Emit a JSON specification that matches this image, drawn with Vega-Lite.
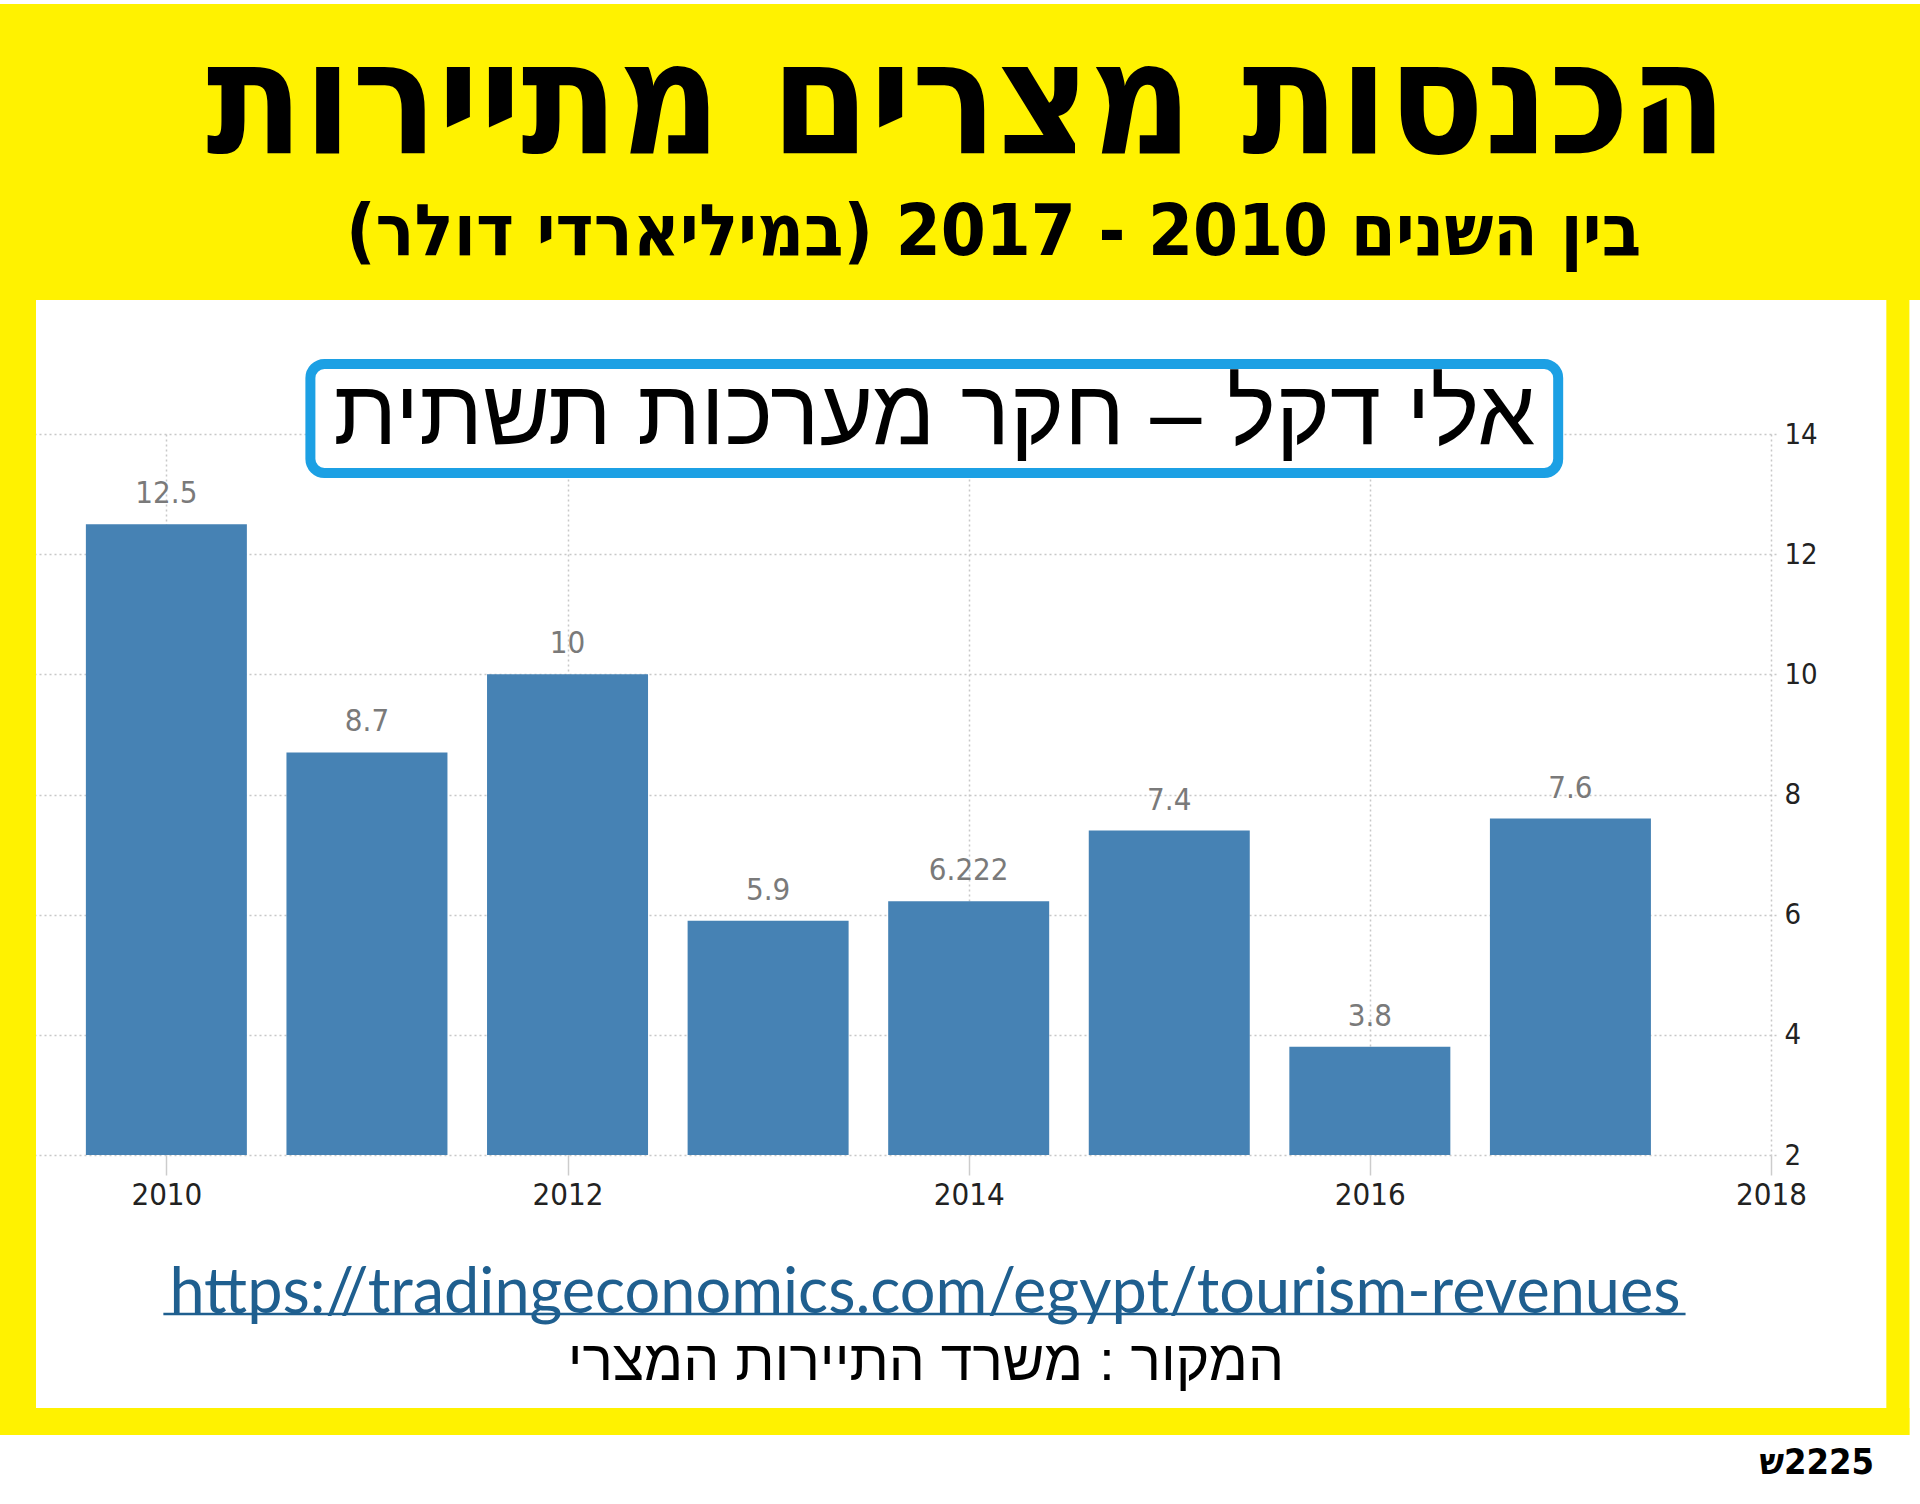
{
  "$schema": "https://vega.github.io/schema/vega-lite/v6.json",
  "width": 1745,
  "height": 721,
  "autosize": {"type": "none"},
  "padding": {"left": 31, "top": 434, "right": 144, "bottom": 349},
  "background": "white",
  "data": {
    "values": [
      {"year": 2010, "revenue": 12.5},
      {"year": 2011, "revenue": 8.7},
      {"year": 2012, "revenue": 10},
      {"year": 2013, "revenue": 5.9},
      {"year": 2014, "revenue": 6.222},
      {"year": 2015, "revenue": 7.4},
      {"year": 2016, "revenue": 3.8},
      {"year": 2017, "revenue": 7.6}
    ]
  },
  "layer": [
    {
      "data": {"values": [{}]},
      "mark": {"type": "rect", "color": "#fff200"},
      "encoding": {
        "x": {"datum": 2005}, "x2": {"datum": 2025},
        "y": {"datum": 21.157}, "y2": {"datum": 16.23}
      }
    },
    {
      "data": {"values": [{}]},
      "mark": {"type": "rect", "color": "#fff200"},
      "encoding": {
        "x": {"datum": 2005}, "x2": {"datum": 2009.35},
        "y": {"datum": 16.23}, "y2": {"datum": -2.661}
      }
    },
    {
      "data": {"values": [{}]},
      "mark": {"type": "rect", "color": "#fff200"},
      "encoding": {
        "x": {"datum": 2018.575}, "x2": {"datum": 2018.69},
        "y": {"datum": 16.23}, "y2": {"datum": -2.661}
      }
    },
    {
      "data": {"values": [{}]},
      "mark": {"type": "rect", "color": "#fff200"},
      "encoding": {
        "x": {"datum": 2005}, "x2": {"datum": 2018.69},
        "y": {"datum": -2.212}, "y2": {"datum": -2.661}
      }
    },
    {
      "mark": {"type": "bar", "width": 161, "color": "#4682b4"},
      "encoding": {
        "x": {
          "field": "year",
          "type": "quantitative",
          "scale": {"domain": [2009.35, 2018], "nice": false, "zero": false},
          "axis": {
            "title": null,
            "values": [2010, 2012, 2014, 2016, 2018],
            "format": "d",
            "domain": false,
            "grid": true,
            "gridColor": "#c8c8c8",
            "gridDash": [2, 3],
            "gridWidth": 1.5,
            "ticks": true,
            "tickColor": "#cccccc",
            "tickSize": 20,
            "tickWidth": 1.5,
            "labelFont": "DejaVu Sans Condensed",
            "labelFontSize": 31,
            "labelColor": "#222222",
            "labelPadding": 5
          }
        },
        "y": {
          "field": "revenue",
          "type": "quantitative",
          "scale": {"domain": [2, 14], "nice": false, "zero": false},
          "axis": {
            "title": null,
            "orient": "right",
            "values": [2, 4, 6, 8, 10, 12, 14],
            "format": "d",
            "domain": false,
            "grid": true,
            "gridColor": "#c8c8c8",
            "gridDash": [2, 3],
            "gridWidth": 1.5,
            "ticks": false,
            "labelFont": "DejaVu Sans Condensed",
            "labelFontSize": 29,
            "labelColor": "#222222",
            "labelPadding": 8
          }
        },
        "y2": {"datum": 2}
      }
    },
    {
      "mark": {
        "type": "text",
        "baseline": "alphabetic",
        "dy": -21,
        "font": "DejaVu Sans Condensed",
        "fontSize": 31,
        "color": "#7a7a7a"
      },
      "encoding": {
        "x": {"field": "year", "type": "quantitative"},
        "y": {"field": "revenue", "type": "quantitative"},
        "text": {"field": "revenue", "type": "nominal"}
      }
    },
    {
      "data": {"values": [{}]},
      "mark": {
        "type": "rect",
        "fill": "white",
        "stroke": "#1ca0e4",
        "strokeWidth": 10,
        "cornerRadius": 14
      },
      "encoding": {
        "x": {"datum": 2010.718}, "x2": {"datum": 2016.939},
        "y": {"datum": 15.165}, "y2": {"datum": 13.351}
      }
    },
    {
      "data": {"values": [{}]},
      "mark": {
        "type": "text",
        "text": "אלי דקל – חקר מערכות תשתית",
        "font": "Liberation Sans",
        "fontSize": 92,
        "color": "black",
        "baseline": "middle"
      },
      "encoding": {"x": {"datum": 2013.829}, "y": {"datum": 14.3}}
    },
    {
      "data": {"values": [{}]},
      "mark": {
        "type": "text",
        "text": "הכנסות מצרים מתיירות",
        "font": "DejaVu Sans Condensed",
        "fontWeight": "bold",
        "fontSize": 158,
        "color": "black",
        "baseline": "middle"
      },
      "encoding": {"x": {"datum": 2013.99}, "y": {"datum": 19.459}}
    },
    {
      "data": {"values": [{}]},
      "mark": {
        "type": "text",
        "text": "בין השנים 2010 - 2017 (במיליארדי דולר)",
        "font": "DejaVu Sans Condensed",
        "fontWeight": "bold",
        "fontSize": 72,
        "color": "black",
        "baseline": "middle"
      },
      "encoding": {"x": {"datum": 2014.124}, "y": {"datum": 17.346}}
    },
    {
      "data": {"values": [{}]},
      "mark": {
        "type": "text",
        "text": "https://tradingeconomics.com/egypt/tourism-revenues",
        "font": "Lato",
        "fontSize": 63,
        "color": "#1f5f8f",
        "baseline": "middle"
      },
      "encoding": {"x": {"datum": 2013.782}, "y": {"datum": -0.314}}
    },
    {
      "data": {"values": [{}]},
      "mark": {"type": "rule", "color": "#1f5f8f", "strokeWidth": 2.5},
      "encoding": {
        "x": {"datum": 2009.985}, "x2": {"datum": 2017.574},
        "y": {"datum": -0.647}
      }
    },
    {
      "data": {"values": [{}]},
      "mark": {
        "type": "text",
        "text": "המקור : משרד התיירות המצרי",
        "font": "Liberation Sans",
        "fontSize": 57,
        "color": "black",
        "baseline": "middle"
      },
      "encoding": {"x": {"datum": 2013.787}, "y": {"datum": -1.463}}
    },
    {
      "data": {"values": [{}]},
      "mark": {
        "type": "text",
        "text": "ש‎2225",
        "font": "DejaVu Sans Condensed",
        "fontWeight": "bold",
        "fontSize": 36,
        "color": "black",
        "baseline": "middle"
      },
      "encoding": {"x": {"datum": 2018.228}, "y": {"datum": -3.127}}
    }
  ],
  "config": {"view": {"stroke": null}}
}
